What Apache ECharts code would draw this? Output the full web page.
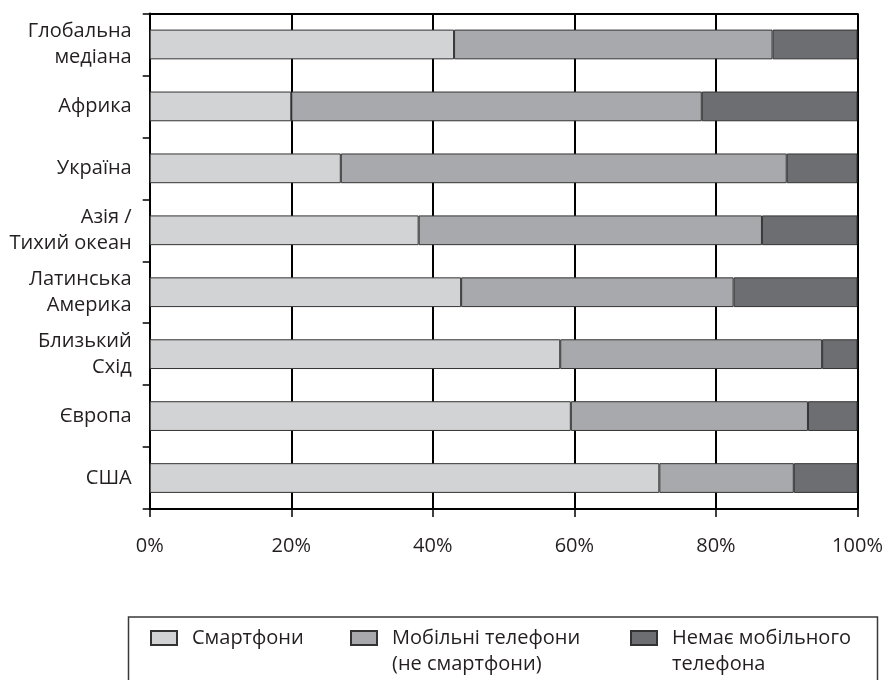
<!DOCTYPE html>
<html>
<head>
<meta charset="utf-8">
<script src="https://cdn.jsdelivr.net/npm/echarts@6/dist/echarts.min.js"></script>
<style>
html,body{margin:0;padding:0;background:#fff;}
#chart{width:892px;height:680px;}
</style>
</head>
<body>
<div id="chart"></div>
<script>
const categories = ["Глобальна\nмедіана", "Африка", "Україна", "Азія /\nТихий океан", "Латинська\nАмерика", "Близький\nСхід", "Європа", "США"];
const smartphones = [43, 20, 27, 38, 44, 58, 59.5, 72];
const mobilePhones = [45, 58, 63, 48.5, 38.5, 37, 33.5, 19];
const noMobile = [12, 22, 10, 13.5, 17.5, 5, 7, 9];
const seriesNames = ["Смартфони", "Мобільні телефони\n(не смартфони)", "Немає мобільного\nтелефона"];
const xTicks = [0, 20, 40, 60, 80, 100];

const FONT = "Open Sans";
const colors = ["#d1d3d4", "#a7a9ac", "#6d6e71"];
const values = [smartphones, mobilePhones, noMobile];

const chart = echarts.init(document.getElementById('chart'), null, {renderer: 'canvas'});

const series = seriesNames.map((name, i) => ({
  name: name,
  type: 'bar',
  stack: 'total',
  barWidth: '48%',
  data: values[i],
  itemStyle: {color: colors[i], borderColor: '#333', borderWidth: 1},
  emphasis: {disabled: true}
}));

// icon: rect at the top of a taller (invisible) box so that it lines up with the first text line
const TALL_ICON = 'path://M0,0L26,0L26,14L0,14Z M0,40';
const legendLefts = [150, 350, 630];
const legends = seriesNames.map((name, i) => {
  const twoLine = name.indexOf('\n') >= 0;
  return {
    data: [{name: name}],
    left: legendLefts[i],
    top: 625,
    padding: 0,
    itemWidth: 26,
    itemHeight: twoLine ? 40 : 14,
    icon: twoLine ? TALL_ICON : 'rect',
    selectedMode: false,
    textStyle: {
      fontFamily: FONT,
      fontSize: 20,
      color: '#231f20',
      lineHeight: 26,
      padding: [0, 0, 0, 10]
    }
  };
});

const option = {
  backgroundColor: '#fff',
  animation: false,
  textStyle: {fontFamily: FONT},
  grid: {left: 149.7, right: 34.5, top: 13.5, bottom: 171, containLabel: false},
  xAxis: [{
    type: 'value',
    min: xTicks[0],
    max: xTicks[xTicks.length - 1],
    interval: 20,
    position: 'bottom',
    axisLine: {show: true, lineStyle: {color: '#000', width: 2}},
    axisTick: {show: true, length: 8, lineStyle: {color: '#000', width: 1.5}},
    splitLine: {show: true, lineStyle: {color: '#000', width: 2}},
    axisLabel: {
      formatter: '{value}%',
      fontFamily: FONT,
      fontSize: 20,
      color: '#231f20',
      margin: 27
    }
  }, {
    type: 'value',
    min: xTicks[0],
    max: xTicks[xTicks.length - 1],
    interval: 20,
    position: 'top',
    axisLine: {show: true, lineStyle: {color: '#000', width: 2}},
    axisTick: {show: false},
    splitLine: {show: false},
    axisLabel: {show: false}
  }],
  yAxis: {
    type: 'category',
    inverse: true,
    data: categories,
    axisLine: {show: true, lineStyle: {color: '#000', width: 2}},
    axisTick: {show: true, length: 7, lineStyle: {color: '#000', width: 1.5}},
    splitLine: {show: false},
    axisLabel: {
      fontFamily: FONT,
      fontSize: 20,
      lineHeight: 26,
      color: '#231f20',
      margin: 18,
      align: 'right'
    }
  },
  legend: legends,
  graphic: [{
    type: 'rect',
    left: 126,
    top: 614.5,
    shape: {width: 749, height: 100},
    style: {fill: 'none', stroke: '#3a3a3a', lineWidth: 1.5},
    silent: true,
    z: -1
  }],
  series: series
};
chart.setOption(option);
</script>
</body>
</html>
